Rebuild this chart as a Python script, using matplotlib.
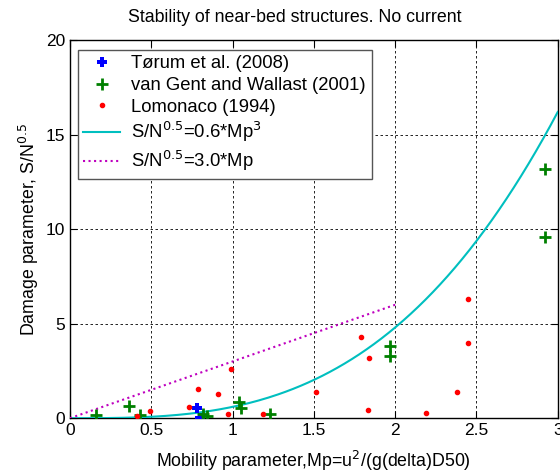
import numpy as np
import matplotlib
matplotlib.use("Agg")
import matplotlib.pyplot as plt

plt.rcParams['font.family'] = ['Liberation Sans', 'DejaVu Sans']
plt.rcParams['font.size'] = 12.5

# Torum et al. (2008)
torum_mp = [0.78, 0.80]
torum_s = [0.55, 0.02]

# van Gent and Wallast (2001)
gent_mp = [0.16, 0.36, 0.43, 0.82, 0.84, 1.04, 1.05, 1.23, 1.97, 1.97, 2.92, 2.92]
gent_s = [0.15, 0.62, 0.15, 0.20, 0.10, 0.85, 0.55, 0.20, 3.80, 3.28, 13.2, 9.6]

# Lomonaco (1994)
lomo_mp = [0.41, 0.49, 0.73, 0.79, 0.91, 0.97, 0.99, 1.19, 1.51, 1.79, 1.83, 1.84,
           2.19, 2.38, 2.45, 2.45]
lomo_s = [0.10, 0.37, 0.60, 1.53, 1.30, 0.20, 2.60, 0.20, 1.37, 4.30, 0.42, 3.20,
          0.30, 1.37, 6.30, 4.00]

fig = plt.figure(figsize=(5.6, 4.72), dpi=100)
ax = fig.add_axes([0.125, 0.114, 0.871, 0.801])

ax.plot(torum_mp, torum_s, 'P', color='#0000ff', markersize=7, markeredgewidth=0,
        linestyle='none', label='Tørum et al. (2008)', zorder=4)
ax.plot(gent_mp, gent_s, '+', color='#008000', markersize=8, markeredgewidth=2,
        linestyle='none', label='van Gent and Wallast (2001)', zorder=4)
ax.plot(lomo_mp, lomo_s, '.', color='#ff0000', markersize=6,
        linestyle='none', label='Lomonaco (1994)', zorder=4)

mp1 = np.linspace(0, 3, 200)
ax.plot(mp1, 0.6 * mp1 ** 3, color='#00bfbf', linewidth=1.5,
        label='S/N$^{0.5}$=0.6*Mp$^{3}$', zorder=3)
mp2 = np.linspace(0, 2, 50)
ax.plot(mp2, 3.0 * mp2, color='#bf00bf', linewidth=1.5, linestyle=':',
        label='S/N$^{0.5}$=3.0*Mp', zorder=3)

ax.set_xlim(0, 3)
ax.set_ylim(0, 20)
ax.set_xticks([0, 0.5, 1, 1.5, 2, 2.5, 3])
ax.set_xticklabels(['0', '0.5', '1', '1.5', '2', '2.5', '3'])
ax.set_yticks([0, 5, 10, 15, 20])
ax.grid(True, color='black', linestyle=(0, (3, 3)), linewidth=0.6)
ax.tick_params(direction='in', top=True, right=True, length=5, labelsize=12.5)
for sp in ax.spines.values():
    sp.set_linewidth(1.0)

ax.set_title('Stability of near-bed structures. No current', fontsize=12.8, pad=13, x=0.46)
ax.set_xlabel('Mobility parameter,Mp=u$^2$/(g(delta)D50)', fontsize=12.8, labelpad=8)
ax.set_ylabel('Damage parameter, S/N$^{0.5}$', fontsize=12.8, labelpad=3)

leg = ax.legend(loc='upper left', bbox_to_anchor=(0.016, 0.974), fontsize=13.3,
                fancybox=False, framealpha=1, edgecolor='#555555',
                handlelength=2.0, handletextpad=0.6, labelspacing=0.25,
                borderpad=0.3, borderaxespad=0)
leg.get_frame().set_linewidth(1.0)

fig.savefig('out.png', dpi=100, facecolor='white')
